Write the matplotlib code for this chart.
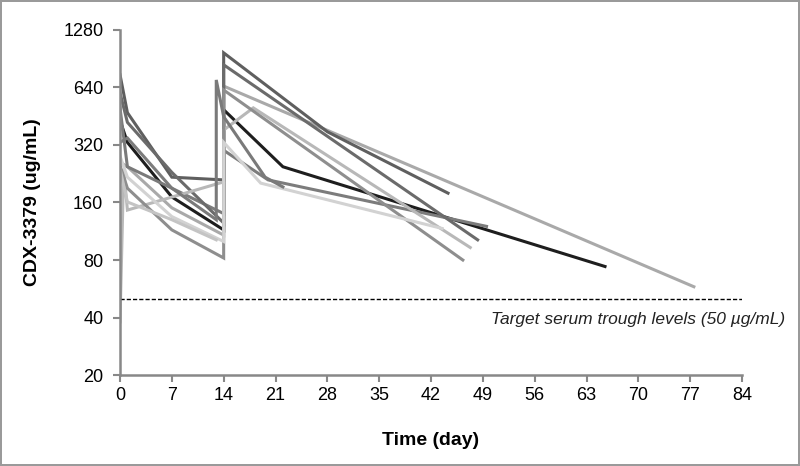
import matplotlib
matplotlib.use('Agg')
import matplotlib.pyplot as plt
from matplotlib.ticker import FixedLocator, NullLocator

plt.rcParams['font.family'] = ['Liberation Sans', 'DejaVu Sans']

# sampling days and serum concentrations (ug/mL) per subject
subject_days = [
    [0, 1, 7, 14, 14, 77.5],
    [0, 1, 7, 14, 14, 22, 65.5],
    [0, 1, 7, 14, 14, 28, 44.3],
    [0, 1, 7, 14, 14, 20, 49.5],
    [0, 1, 7, 14, 14, 48.3],
    [0, 0.5, 1, 14, 14, 18, 47.3],
    [0, 1, 7, 14, 14, 46.3],
    [0, 1, 7, 14, 14, 19, 43.5],
    [0, 1, 7, 13, 13, 14, 19.6, 22],
    [0, 1, 7, 13],
]
subject_conc = [
    [260, 246, 150, 108, 650, 58],
    [430, 330, 171, 115, 489, 246, 74],
    [746, 472, 217, 210, 970, 375, 179],
    [330, 348, 190, 140, 300, 210, 120],
    [600, 420, 230, 125, 840, 102],
    [38, 240, 146, 205, 383, 500, 93],
    [250, 190, 115, 82, 620, 80],
    [280, 217, 135, 100, 330, 202, 117],
    [500, 246, 190, 130, 700, 450, 217, 193],
    [240, 161, 130, 102],
]
subject_colors = ['#a9a9a9', '#1e1e1e', '#5f5f5f', '#7c7c7c', '#6b6b6b',
                  '#b8b8b8', '#8e8e8e', '#d2d2d2', '#7a7a7a', '#c4c4c4']

target_trough = 50
y_ticks = [20, 40, 80, 160, 320, 640, 1280]
x_ticks = list(range(0, 85, 7))

fig = plt.figure(figsize=(8, 4.66), dpi=100)
fig.patch.set_edgecolor('#9a9a9a')
fig.patch.set_linewidth(1.5)
ax = fig.add_axes([0.15, 0.195, 0.7775, 0.741])

for d, c, col in zip(subject_days, subject_conc, subject_colors):
    ax.plot(d, c, color=col, linewidth=2.2, solid_joinstyle='miter')

ax.plot([0, 84], [target_trough, target_trough], color='black',
        linestyle=(0, (3, 1.5)), linewidth=1)
ax.text(89.8, 39, 'Target serum trough levels (50 µg/mL)', style='italic',
        fontsize=12.5, ha='right', va='center', color='#222222', clip_on=False)

ax.set_yscale('log', base=2)
ax.set_ylim(20, 1280)
ax.set_xlim(0, 84)
ax.yaxis.set_major_locator(FixedLocator(y_ticks))
ax.yaxis.set_minor_locator(NullLocator())
ax.set_yticklabels([str(t) for t in y_ticks])
ax.set_xticks(x_ticks)

for s in ['top', 'right']:
    ax.spines[s].set_visible(False)
for s in ['left', 'bottom']:
    ax.spines[s].set_color('#888888')
    ax.spines[s].set_linewidth(1.8)
ax.tick_params(axis='both', colors='#888888', labelcolor='black',
               length=5, width=1.5, labelsize=13, direction='out')
ax.tick_params(axis='y', pad=7)

ax.set_ylabel('CDX-3379 (ug/mL)', fontsize=14, fontweight='bold', labelpad=16)
ax.set_xlabel('Time (day)', fontsize=14, fontweight='bold', labelpad=20)

fig.savefig('out.png', dpi=100, edgecolor=fig.get_edgecolor())
